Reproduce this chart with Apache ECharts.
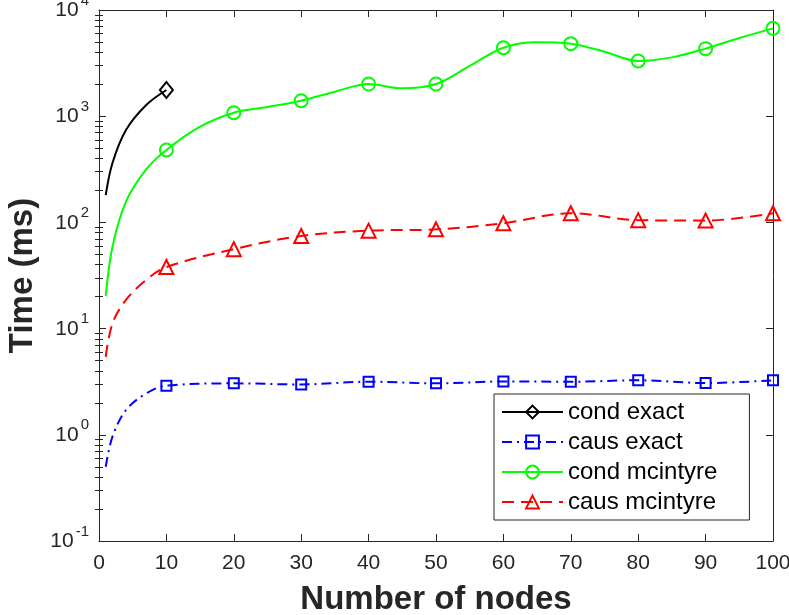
<!DOCTYPE html>
<html>
<head>
<meta charset="utf-8">
<script src="https://cdn.jsdelivr.net/npm/echarts@6/dist/echarts.min.js"></script>
<style>
  html, body { margin: 0; padding: 0; background: #fff; }
  #chart { width: 789px; height: 615px; }
</style>
</head>
<body>
<div id="chart"></div>
<script>
// values (log y axis, ms)
var condExactX = [1, 2, 4, 7, 10];
var condExactY = [181, 362, 740, 1274, 1766];

var causExactX = [1, 2, 4, 7, 10, 20, 30, 40, 50, 60, 70, 80, 90, 100];
var causExactY = [0.5, 0.96, 1.71, 2.45, 2.9, 3.05, 2.98, 3.16, 3.05, 3.18, 3.16, 3.26, 3.07, 3.26];

var condMcX = [1, 2, 4, 7, 10, 15, 20, 25, 30, 35, 40, 45, 50, 55, 60, 65, 70, 75, 80, 85, 90, 95, 100];
var condMcY = [20.3, 59, 157, 316, 481, 796, 1079, 1220, 1399, 1702, 2010, 1830, 2010, 2972, 4416, 4966, 4820, 4045, 3311, 3580, 4327, 5445, 6715];

var causMcX = [1, 2, 4, 7, 10, 20, 30, 40, 50, 60, 70, 80, 90, 100];
var causMcY = [5.43, 11.2, 18.6, 28.7, 38, 56, 74.5, 83.6, 86, 98, 122, 105, 104, 122];

// minor tick marks of the log axis (2..9 per decade), placed on a helper axis in log10 units
var minorTicks = [];
[-1, 0, 1, 2, 3].forEach(function (e) {
  for (var k = 2; k <= 9; k++) minorTicks.push(e + Math.log10(k));
});

var AXIS = '#262626';
var FONT = 'Liberation Sans';

var chart = echarts.init(document.getElementById('chart'));

function pts(xs, ys) {
  return xs.map(function (x, i) {
    var item = { value: [x, ys[i]] };
    if (x % 10 !== 0) item.symbol = 'none';
    return item;
  });
}

function mk(name, xs, ys, color, dash, symbol, size) {
  return {
    name: name,
    type: 'line',
    smooth: 0.35,
    data: pts(xs, ys),
    symbol: symbol,
    symbolSize: size,
    showAllSymbol: true,
    lineStyle: { color: color, width: 2, type: dash },
    itemStyle: { color: 'rgba(0,0,0,0)', borderColor: color, borderWidth: 2 },
    emphasis: { disabled: true }
  };
}

function yMajor(pos) {
  return {
    type: 'log',
    logBase: 10,
    min: 0.1,
    max: 10000,
    position: pos,
    axisLine: { show: true, onZero: false, lineStyle: { color: AXIS, width: 1 } },
    axisTick: { inside: true, length: 7, lineStyle: { color: AXIS } },
    axisLabel: { show: false },
    splitLine: { show: false }
  };
}

function yMinor(pos) {
  return {
    type: 'value',
    min: -1,
    max: 4,
    position: pos,
    axisLine: { show: false },
    axisTick: { show: true, inside: true, length: 4, customValues: minorTicks, lineStyle: { color: AXIS } },
    axisLabel: { show: false },
    splitLine: { show: false }
  };
}

var yMain = yMajor('left');
yMain.axisLabel = {
  show: true,
  margin: 10,
  color: AXIS,
  padding: [0, 0, 6, 0],
  formatter: function (v) {
    var e = Math.round(Math.log10(v));
    return '{b|10}{s|' + e + '}';
  },
  rich: {
    b: { fontSize: 21, lineHeight: 28, verticalAlign: 'bottom', color: AXIS, fontFamily: FONT },
    s: { fontSize: 15, lineHeight: 15, verticalAlign: 'top', color: AXIS, fontFamily: FONT, padding: [0, 0, 0, 2] }
  }
};
yMain.name = 'Time (ms)';
yMain.nameLocation = 'middle';
yMain.nameGap = 55;
yMain.nameTextStyle = { fontSize: 33, fontWeight: 'bold', color: AXIS, fontFamily: FONT };

function xAx(pos, labels) {
  return {
    type: 'value',
    min: 0,
    max: 100,
    interval: 10,
    position: pos,
    axisLine: { onZero: false, lineStyle: { color: AXIS, width: 1 } },
    axisTick: { inside: true, length: 7, lineStyle: { color: AXIS } },
    axisLabel: { show: labels, fontSize: 21, color: AXIS, margin: 12, fontFamily: FONT },
    splitLine: { show: false }
  };
}

var xMain = xAx('bottom', true);
xMain.name = 'Number of nodes';
xMain.nameLocation = 'middle';
xMain.nameGap = 42;
xMain.nameTextStyle = { fontSize: 33, fontWeight: 'bold', color: AXIS, fontFamily: FONT };

var option = {
  animation: false,
  textStyle: { fontFamily: FONT },
  grid: { left: 99, right: 16, top: 10, bottom: 74, containLabel: false, outerBoundsMode: 'none' },
  xAxis: [xMain, xAx('top', false)],
  yAxis: [yMain, yMinor('left'), yMajor('right'), yMinor('right')],
  legend: {
    orient: 'vertical',
    left: 494,
    top: 394,
    itemWidth: 61,
    itemHeight: 16,
    itemGap: 6,
    padding: [6, 32, 6, 7],
    borderColor: AXIS,
    borderWidth: 1,
    backgroundColor: '#fff',
    textStyle: { fontSize: 24, color: '#000', lineHeight: 24, fontFamily: FONT },
    data: ['cond exact', 'caus exact', 'cond mcintyre', 'caus mcintyre']
  },
  series: [
    mk('cond exact', condExactX, condExactY, '#000000', 'solid', 'diamond', [13, 16]),
    mk('caus exact', causExactX, causExactY, '#0000ff', [10, 5, 2, 5], 'rect', 10),
    mk('cond mcintyre', condMcX, condMcY, '#00ff00', 'solid', 'circle', 13),
    mk('caus mcintyre', causMcX, causMcY, '#ff0000', [12, 7], 'triangle', 14)
  ]
};

chart.setOption(option);
</script>
</body>
</html>
